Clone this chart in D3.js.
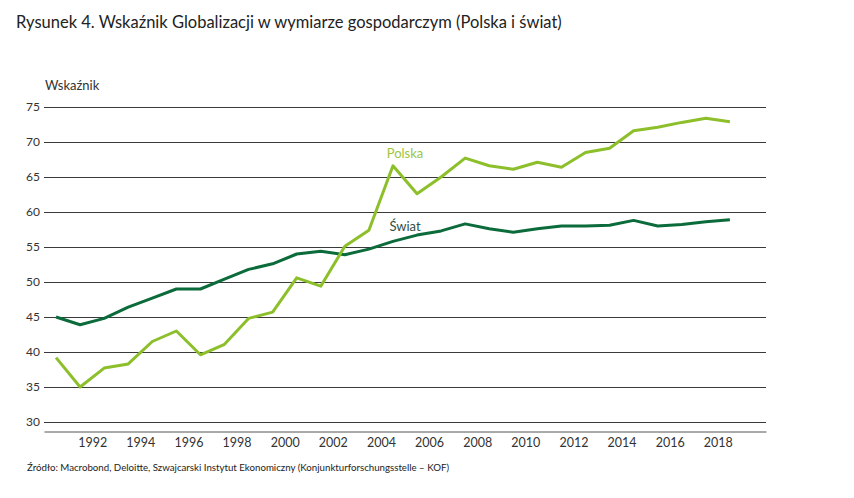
<!DOCTYPE html>
<html>
<head>
<meta charset="utf-8">
<script src="https://cdn.jsdelivr.net/npm/d3@7"></script>
<style>
  body { margin: 0; background: #fff; }
  svg { display: block; font-family: Lato, "Open Sans", sans-serif; }
</style>
</head>
<body>
<svg id="chart" width="854" height="498"></svg>
<script>
// annual values, plotted at mid-year like the original
var years = d3.range(1990, 2019);

var polska = [39.2, 35.0, 37.7, 38.3, 41.5, 43.0, 39.6, 41.1, 44.8, 45.7,
  50.6, 49.4, 55.1, 57.4, 66.6, 62.6, 65.0, 67.7, 66.6, 66.1,
  67.1, 66.4, 68.5, 69.1, 71.6, 72.1, 72.8, 73.4, 72.9];

var swiat = [45.0, 43.9, 44.8, 46.4, 47.7, 49.0, 49.0, 50.4, 51.8, 52.6,
  54.0, 54.4, 53.9, 54.7, 55.8, 56.7, 57.3, 58.3, 57.6, 57.1,
  57.6, 58.0, 58.0, 58.1, 58.8, 58.0, 58.2, 58.6, 58.9];

var yTicks = [30, 35, 40, 45, 50, 55, 60, 65, 70, 75];
var xTicks = d3.range(1992, 2019, 2);

var svg = d3.select('#chart');

var plotLeft = 44, plotRight = 766, plotTop = 107, plotBottom = 422, axisY = 431;

var x = d3.scaleLinear().domain([1990, 2020]).range([plotLeft, plotRight]);
var y = d3.scaleLinear().domain([30, 75]).range([plotBottom, plotTop]);

// title
svg.append('text')
  .attr('x', 16)
  .attr('y', 28)
  .attr('font-size', 16.5)
  .attr('fill', '#222')
  .text('Rysunek 4. Wskaźnik Globalizacji w wymiarze gospodarczym (Polska i świat)');

svg.append('text')
  .attr('x', 45)
  .attr('y', 90)
  .attr('font-size', 13)
  .attr('fill', '#333')
  .text('Wskaźnik');

// horizontal grid + y labels
var grid = svg.append('g').attr('class', 'grid');
grid.selectAll('line')
  .data(yTicks)
  .enter().append('line')
  .attr('x1', plotLeft)
  .attr('x2', plotRight)
  .attr('y1', function(d) { return Math.round(y(d)) + 0.5; })
  .attr('y2', function(d) { return Math.round(y(d)) + 0.5; })
  .attr('stroke', '#3a3a3a')
  .attr('stroke-width', 1);

grid.selectAll('text')
  .data(yTicks)
  .enter().append('text')
  .attr('x', 40)
  .attr('y', function(d) { return y(d); })
  .attr('dy', '0.35em')
  .attr('text-anchor', 'end')
  .attr('font-size', 12)
  .attr('fill', '#333')
  .text(function(d) { return d; });

// x axis: baseline sits a little under the 30 line
var xAxis = d3.axisBottom(x)
  .tickValues(xTicks)
  .tickFormat(d3.format('d'))
  .tickSize(0)
  .tickPadding(7);

var gx = svg.append('g')
  .attr('transform', 'translate(0,' + (axisY + 0.5) + ')')
  .call(xAxis);

gx.select('.domain').attr('stroke', '#555');
gx.selectAll('text')
  .attr('font-size', 12.5)
  .attr('font-family', 'Lato, sans-serif')
  .attr('fill', '#333');

// series
var line = d3.line()
  .x(function(d, i) { return x(years[i] + 0.5); })
  .y(function(d) { return y(d); });

svg.append('path')
  .datum(swiat)
  .attr('fill', 'none')
  .attr('stroke', '#0b6b3a')
  .attr('stroke-width', 3)
  .attr('stroke-linejoin', 'round')
  .attr('d', line);

svg.append('path')
  .datum(polska)
  .attr('fill', 'none')
  .attr('stroke', '#8cbf2a')
  .attr('stroke-width', 3)
  .attr('stroke-linejoin', 'round')
  .attr('d', line);

// series labels
svg.append('text')
  .attr('x', x(2005))
  .attr('y', y(68.4))
  .attr('dy', '0.35em')
  .attr('text-anchor', 'middle')
  .attr('font-size', 13)
  .attr('fill', '#9cc540')
  .text('Polska');

svg.append('text')
  .attr('x', x(2005))
  .attr('y', y(58.0))
  .attr('dy', '0.35em')
  .attr('text-anchor', 'middle')
  .attr('font-size', 13)
  .attr('fill', '#2e4f45')
  .text('Świat');

// source
svg.append('text')
  .attr('x', 27)
  .attr('y', 471)
  .attr('font-size', 9.7)
  .attr('fill', '#222')
  .text('Źródło: Macrobond, Deloitte, Szwajcarski Instytut Ekonomiczny (Konjunkturforschungsstelle – KOF)');
</script>
</body>
</html>
